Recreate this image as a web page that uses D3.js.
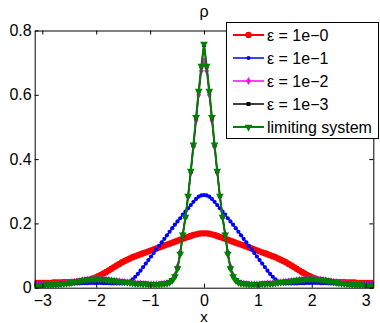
<!DOCTYPE html>
<html>
<head>
<meta charset="utf-8">
<script src="https://cdn.jsdelivr.net/npm/d3@7"></script>
<style>
  body { margin: 0; background: #fff; }
  svg { display: block; font-family: 'Liberation Sans', Arial, Helvetica, sans-serif; }
</style>
</head>
<body>
<svg id="chart" width="380" height="323"></svg>
<script>
// grid points (2*pi/128 spacing)
const xs = [-3.142,-3.093,-3.043,-2.994,-2.945,-2.896,-2.847,-2.798,-2.749,-2.700,-2.651,-2.601,-2.552,-2.503,-2.454,-2.405,-2.356,-2.307,-2.258,-2.209,-2.160,-2.111,-2.061,-2.012,-1.963,-1.914,-1.865,-1.816,-1.767,-1.718,-1.669,-1.620,-1.571,-1.521,-1.472,-1.423,-1.374,-1.325,-1.276,-1.227,-1.178,-1.129,-1.080,-1.031,-0.982,-0.933,-0.884,-0.834,-0.785,-0.736,-0.687,-0.638,-0.589,-0.540,-0.491,-0.442,-0.393,-0.344,-0.295,-0.245,-0.196,-0.147,-0.098,-0.049,0,0.049,0.098,0.147,0.196,0.245,0.295,0.344,0.393,0.442,0.491,0.540,0.589,0.638,0.687,0.736,0.785,0.834,0.884,0.933,0.982,1.031,1.080,1.129,1.178,1.227,1.276,1.325,1.374,1.423,1.472,1.521,1.571,1.620,1.669,1.718,1.767,1.816,1.865,1.914,1.963,2.012,2.061,2.111,2.160,2.209,2.258,2.307,2.356,2.405,2.454,2.503,2.552,2.601,2.651,2.700,2.749,2.798,2.847,2.896,2.945,2.994,3.043,3.093,3.142];

const rho_eps0 = [
  0.015,0.015,0.015,0.015,
  0.015,0.015,0.015,0.016,0.016,0.016,0.016,0.017,0.017,0.017,
  0.018,0.018,0.019,0.020,0.021,0.022,0.024,0.026,0.029,0.032,
  0.036,0.040,0.044,0.049,0.054,0.059,0.064,0.069,0.074,0.079,
  0.083,0.087,0.091,0.095,0.098,0.101,0.104,0.107,0.110,0.113,
  0.116,0.119,0.122,0.125,0.128,0.131,0.134,0.137,0.140,0.143,
  0.146,0.149,0.152,0.155,0.158,0.161,0.164,0.166,0.168,0.169,
  0.169,
  0.169,0.168,0.166,0.164,0.161,0.158,0.155,0.152,0.149,0.146,
  0.143,0.140,0.137,0.134,0.131,0.128,0.125,0.122,0.119,0.116,
  0.113,0.110,0.107,0.104,0.101,0.098,0.095,0.091,0.087,0.083,
  0.079,0.074,0.069,0.064,0.059,0.054,0.049,0.044,0.040,0.036,
  0.032,0.029,0.026,0.024,0.022,0.021,0.020,0.019,0.018,0.018,
  0.017,0.017,0.017,0.016,0.016,0.016,0.016,0.015,0.015,0.015,
  0.015,0.015,0.015,0.015];

const rho_eps1 = [
  0.011,0.011,0.011,0.011,
  0.011,0.011,0.011,0.011,0.011,0.011,0.012,0.012,0.012,0.012,
  0.012,0.013,0.013,0.013,0.014,0.014,0.014,0.015,0.015,0.015,
  0.015,0.015,0.014,0.014,0.014,0.013,0.013,0.013,0.013,0.013,
  0.014,0.016,0.020,0.026,0.034,0.043,0.053,0.064,0.075,0.086,
  0.097,0.108,0.119,0.130,0.141,0.152,0.163,0.174,0.185,0.196,
  0.206,0.216,0.227,0.237,0.247,0.257,0.267,0.276,0.283,0.287,
  0.288,
  0.287,0.283,0.276,0.267,0.257,0.247,0.237,0.227,0.216,0.206,
  0.196,0.185,0.174,0.163,0.152,0.141,0.130,0.119,0.108,0.097,
  0.086,0.075,0.064,0.053,0.043,0.034,0.026,0.020,0.016,0.014,
  0.013,0.013,0.013,0.013,0.013,0.014,0.014,0.014,0.015,0.015,
  0.015,0.015,0.015,0.014,0.014,0.014,0.013,0.013,0.013,0.012,
  0.012,0.012,0.012,0.011,0.011,0.011,0.011,0.011,0.011,0.011,
  0.011,0.011,0.011,0.011];

const rho_eps2 = [
  0.008,0.008,0.008,0.008,
  0.009,0.009,0.009,0.010,0.010,0.011,0.012,0.013,0.014,0.015,
  0.017,0.018,0.020,0.021,0.023,0.024,0.025,0.026,0.027,0.027,
  0.027,0.027,0.026,0.025,0.024,0.023,0.022,0.021,0.020,0.019,
  0.018,0.017,0.016,0.015,0.014,0.013,0.013,0.012,0.012,0.011,
  0.011,0.011,0.011,0.011,0.012,0.013,0.015,0.018,0.025,0.039,
  0.066,0.110,0.166,0.220,0.283,0.358,0.438,0.520,0.600,0.675,
  0.705,
  0.675,0.600,0.520,0.438,0.358,0.283,0.220,0.166,0.110,0.066,
  0.039,0.025,0.018,0.015,0.013,0.012,0.011,0.011,0.011,0.011,
  0.011,0.012,0.012,0.013,0.013,0.014,0.015,0.016,0.017,0.018,
  0.019,0.020,0.021,0.022,0.023,0.024,0.025,0.026,0.027,0.027,
  0.027,0.027,0.026,0.025,0.024,0.023,0.021,0.020,0.018,0.017,
  0.015,0.014,0.013,0.012,0.011,0.010,0.010,0.009,0.009,0.009,
  0.008,0.008,0.008,0.008];

const rho_eps3 = [
  0.008,0.008,0.008,0.008,
  0.009,0.009,0.009,0.010,0.010,0.011,0.012,0.013,0.014,0.015,
  0.017,0.018,0.020,0.021,0.023,0.024,0.025,0.026,0.027,0.027,
  0.027,0.027,0.026,0.025,0.024,0.023,0.022,0.021,0.020,0.019,
  0.018,0.017,0.016,0.015,0.014,0.013,0.013,0.012,0.012,0.011,
  0.011,0.011,0.011,0.011,0.012,0.013,0.014,0.017,0.023,0.036,
  0.061,0.106,0.165,0.220,0.285,0.362,0.444,0.529,0.611,0.688,
  0.755,
  0.688,0.611,0.529,0.444,0.362,0.285,0.220,0.165,0.106,0.061,
  0.036,0.023,0.017,0.014,0.013,0.012,0.011,0.011,0.011,0.011,
  0.011,0.012,0.012,0.013,0.013,0.014,0.015,0.016,0.017,0.018,
  0.019,0.020,0.021,0.022,0.023,0.024,0.025,0.026,0.027,0.027,
  0.027,0.027,0.026,0.025,0.024,0.023,0.021,0.020,0.018,0.017,
  0.015,0.014,0.013,0.012,0.011,0.010,0.010,0.009,0.009,0.009,
  0.008,0.008,0.008,0.008];

const rho_limit = [
  0.008,0.008,0.008,0.008,
  0.009,0.009,0.009,0.010,0.010,0.011,0.012,0.013,0.014,0.015,
  0.017,0.018,0.020,0.021,0.023,0.024,0.025,0.026,0.027,0.027,
  0.027,0.027,0.026,0.025,0.024,0.023,0.022,0.021,0.020,0.019,
  0.018,0.017,0.016,0.015,0.014,0.013,0.013,0.012,0.012,0.011,
  0.011,0.011,0.011,0.011,0.012,0.013,0.014,0.017,0.023,0.035,
  0.060,0.105,0.165,0.220,0.285,0.363,0.445,0.530,0.612,0.690,
  0.758,
  0.690,0.612,0.530,0.445,0.363,0.285,0.220,0.165,0.105,0.060,
  0.035,0.023,0.017,0.014,0.013,0.012,0.011,0.011,0.011,0.011,
  0.011,0.012,0.012,0.013,0.013,0.014,0.015,0.016,0.017,0.018,
  0.019,0.020,0.021,0.022,0.023,0.024,0.025,0.026,0.027,0.027,
  0.027,0.027,0.026,0.025,0.024,0.023,0.021,0.020,0.018,0.017,
  0.015,0.014,0.013,0.012,0.011,0.010,0.010,0.009,0.009,0.009,
  0.008,0.008,0.008,0.008];

const series_labels = ['ε = 1e−0', 'ε = 1e−1', 'ε = 1e−2', 'ε = 1e−3', 'limiting system'];
const x_ticks = [-3, -2, -1, 0, 1, 2, 3];
const y_ticks = [0, 0.2, 0.4, 0.6, 0.8];

const series = [
  { label: series_labels[0], values: rho_eps0, color: '#ff0000', width: 2, marker: 'dot', size: 3.2 },
  { label: series_labels[1], values: rho_eps1, color: '#0000ff', width: 1.5, marker: 'dot', size: 2.1 },
  { label: series_labels[2], values: rho_eps2, color: '#ff00ff', width: 1.5, marker: 'diamond', size: 18 },
  { label: series_labels[3], values: rho_eps3, color: '#000000', width: 1.5, marker: 'square', size: 16 },
  { label: series_labels[4], values: rho_limit, color: '#008000', width: 2, marker: 'tri', size: 26 },
];

const svg = d3.select('#chart');
const margin = { left: 34.7, right: 6.7, top: 30.5, bottom: 35.3 };
const width = 380, height = 323;

const x = d3.scaleLinear([-Math.PI, Math.PI], [margin.left, width - margin.right]);
const y = d3.scaleLinear([0, 0.8], [height - margin.bottom, margin.top]);

const clip_id = 'plot-clip';
svg.append('defs').append('clipPath').attr('id', clip_id)
  .append('rect')
  .attr('x', margin.left).attr('y', margin.top - 6)
  .attr('width', width - margin.left - margin.right)
  .attr('height', height - margin.top - margin.bottom + 6);

const marker_path = (s) => {
  if (s.marker === 'diamond') return d3.symbol(d3.symbolDiamond, s.size)();
  if (s.marker === 'square') return d3.symbol(d3.symbolSquare, s.size)();
  if (s.marker === 'tri') return d3.symbol(d3.symbolTriangle, s.size)();
  return null;
};

const draw_markers = (g, s, pts) => {
  if (s.marker === 'dot') {
    g.selectAll('circle')
      .data(pts)
      .join('circle')
      .attr('cx', (d) => x(d[0]))
      .attr('cy', (d) => y(d[1]))
      .attr('r', s.size)
      .attr('fill', s.color);
  } else {
    const rot = s.marker === 'tri' ? ' rotate(180)' : '';
    g.selectAll('path.m')
      .data(pts)
      .join('path')
      .attr('class', 'm')
      .attr('d', marker_path(s))
      .attr('transform', (d) => `translate(${x(d[0])},${y(d[1])})${rot}`)
      .attr('fill', s.color);
  }
};

const line = d3.line().x((d) => x(d[0])).y((d) => y(d[1]));

const plot = svg.append('g').attr('clip-path', `url(#${clip_id})`);
series.forEach((s) => {
  const pts = xs.map((xv, i) => [xv, s.values[i]]).filter((d) => d[1] != null);
  const g = plot.append('g');
  g.append('path')
    .datum(pts)
    .attr('fill', 'none')
    .attr('stroke', s.color)
    .attr('stroke-width', s.width)
    .attr('stroke-linejoin', 'round')
    .attr('d', line);
  draw_markers(g, s, pts);
});

// axes, ticks inside like the original
const tick_len = -4;
const fmt_y = (d) => (d === 0 ? '0' : d3.format('.1f')(d));
const axis_font = (g) => g.selectAll('text').attr('font-size', 16).attr('fill', '#000').attr('font-family', null);

svg.append('g')
  .attr('transform', `translate(0,${height - margin.bottom})`)
  .call(d3.axisBottom(x).tickValues(x_ticks).tickSize(tick_len).tickSizeOuter(0).tickPadding(7).tickFormat(d3.format('d')))
  .call(axis_font);
svg.append('g')
  .attr('transform', `translate(0,${margin.top})`)
  .call(d3.axisTop(x).tickValues(x_ticks).tickSize(tick_len).tickSizeOuter(0).tickFormat(''));
svg.append('g')
  .attr('transform', `translate(${margin.left},0)`)
  .call(d3.axisLeft(y).tickValues(y_ticks).tickSize(tick_len).tickSizeOuter(0).tickPadding(3).tickFormat(fmt_y))
  .call(axis_font);
svg.append('g')
  .attr('transform', `translate(${width - margin.right},0)`)
  .call(d3.axisRight(y).tickValues(y_ticks).tickSize(tick_len).tickSizeOuter(0).tickFormat(''));
svg.selectAll('.domain, .tick line').attr('stroke', '#000').attr('stroke-width', 1);

svg.append('text')
  .attr('x', x(0)).attr('y', 321.5)
  .attr('text-anchor', 'middle').attr('font-size', 15)
  .text('x');
svg.append('text')
  .attr('x', x(0)).attr('y', 17)
  .attr('text-anchor', 'middle').attr('font-size', 16)
  .text('ρ');

// legend
const lg = svg.append('g');
lg.append('rect')
  .attr('x', 226.5).attr('y', 22.5)
  .attr('width', 152).attr('height', 116)
  .attr('fill', '#fff').attr('stroke', '#000');
series.forEach((s, i) => {
  const ly = 35 + i * 23;
  lg.append('line')
    .attr('x1', 233).attr('x2', 264)
    .attr('y1', ly).attr('y2', ly)
    .attr('stroke', s.color).attr('stroke-width', s.width);
  if (s.marker === 'dot') {
    lg.append('circle').attr('cx', 248.5).attr('cy', ly).attr('r', s.size).attr('fill', s.color);
  } else {
    lg.append('path')
      .attr('d', marker_path(s))
      .attr('transform', `translate(248.5,${ly})${s.marker === 'tri' ? ' rotate(180)' : ''}`)
      .attr('fill', s.color);
  }
  lg.append('text')
    .attr('x', 267).attr('y', ly)
    .attr('dy', '0.35em')
    .attr('font-size', 16)
    .text(s.label);
});
</script>
</body>
</html>
